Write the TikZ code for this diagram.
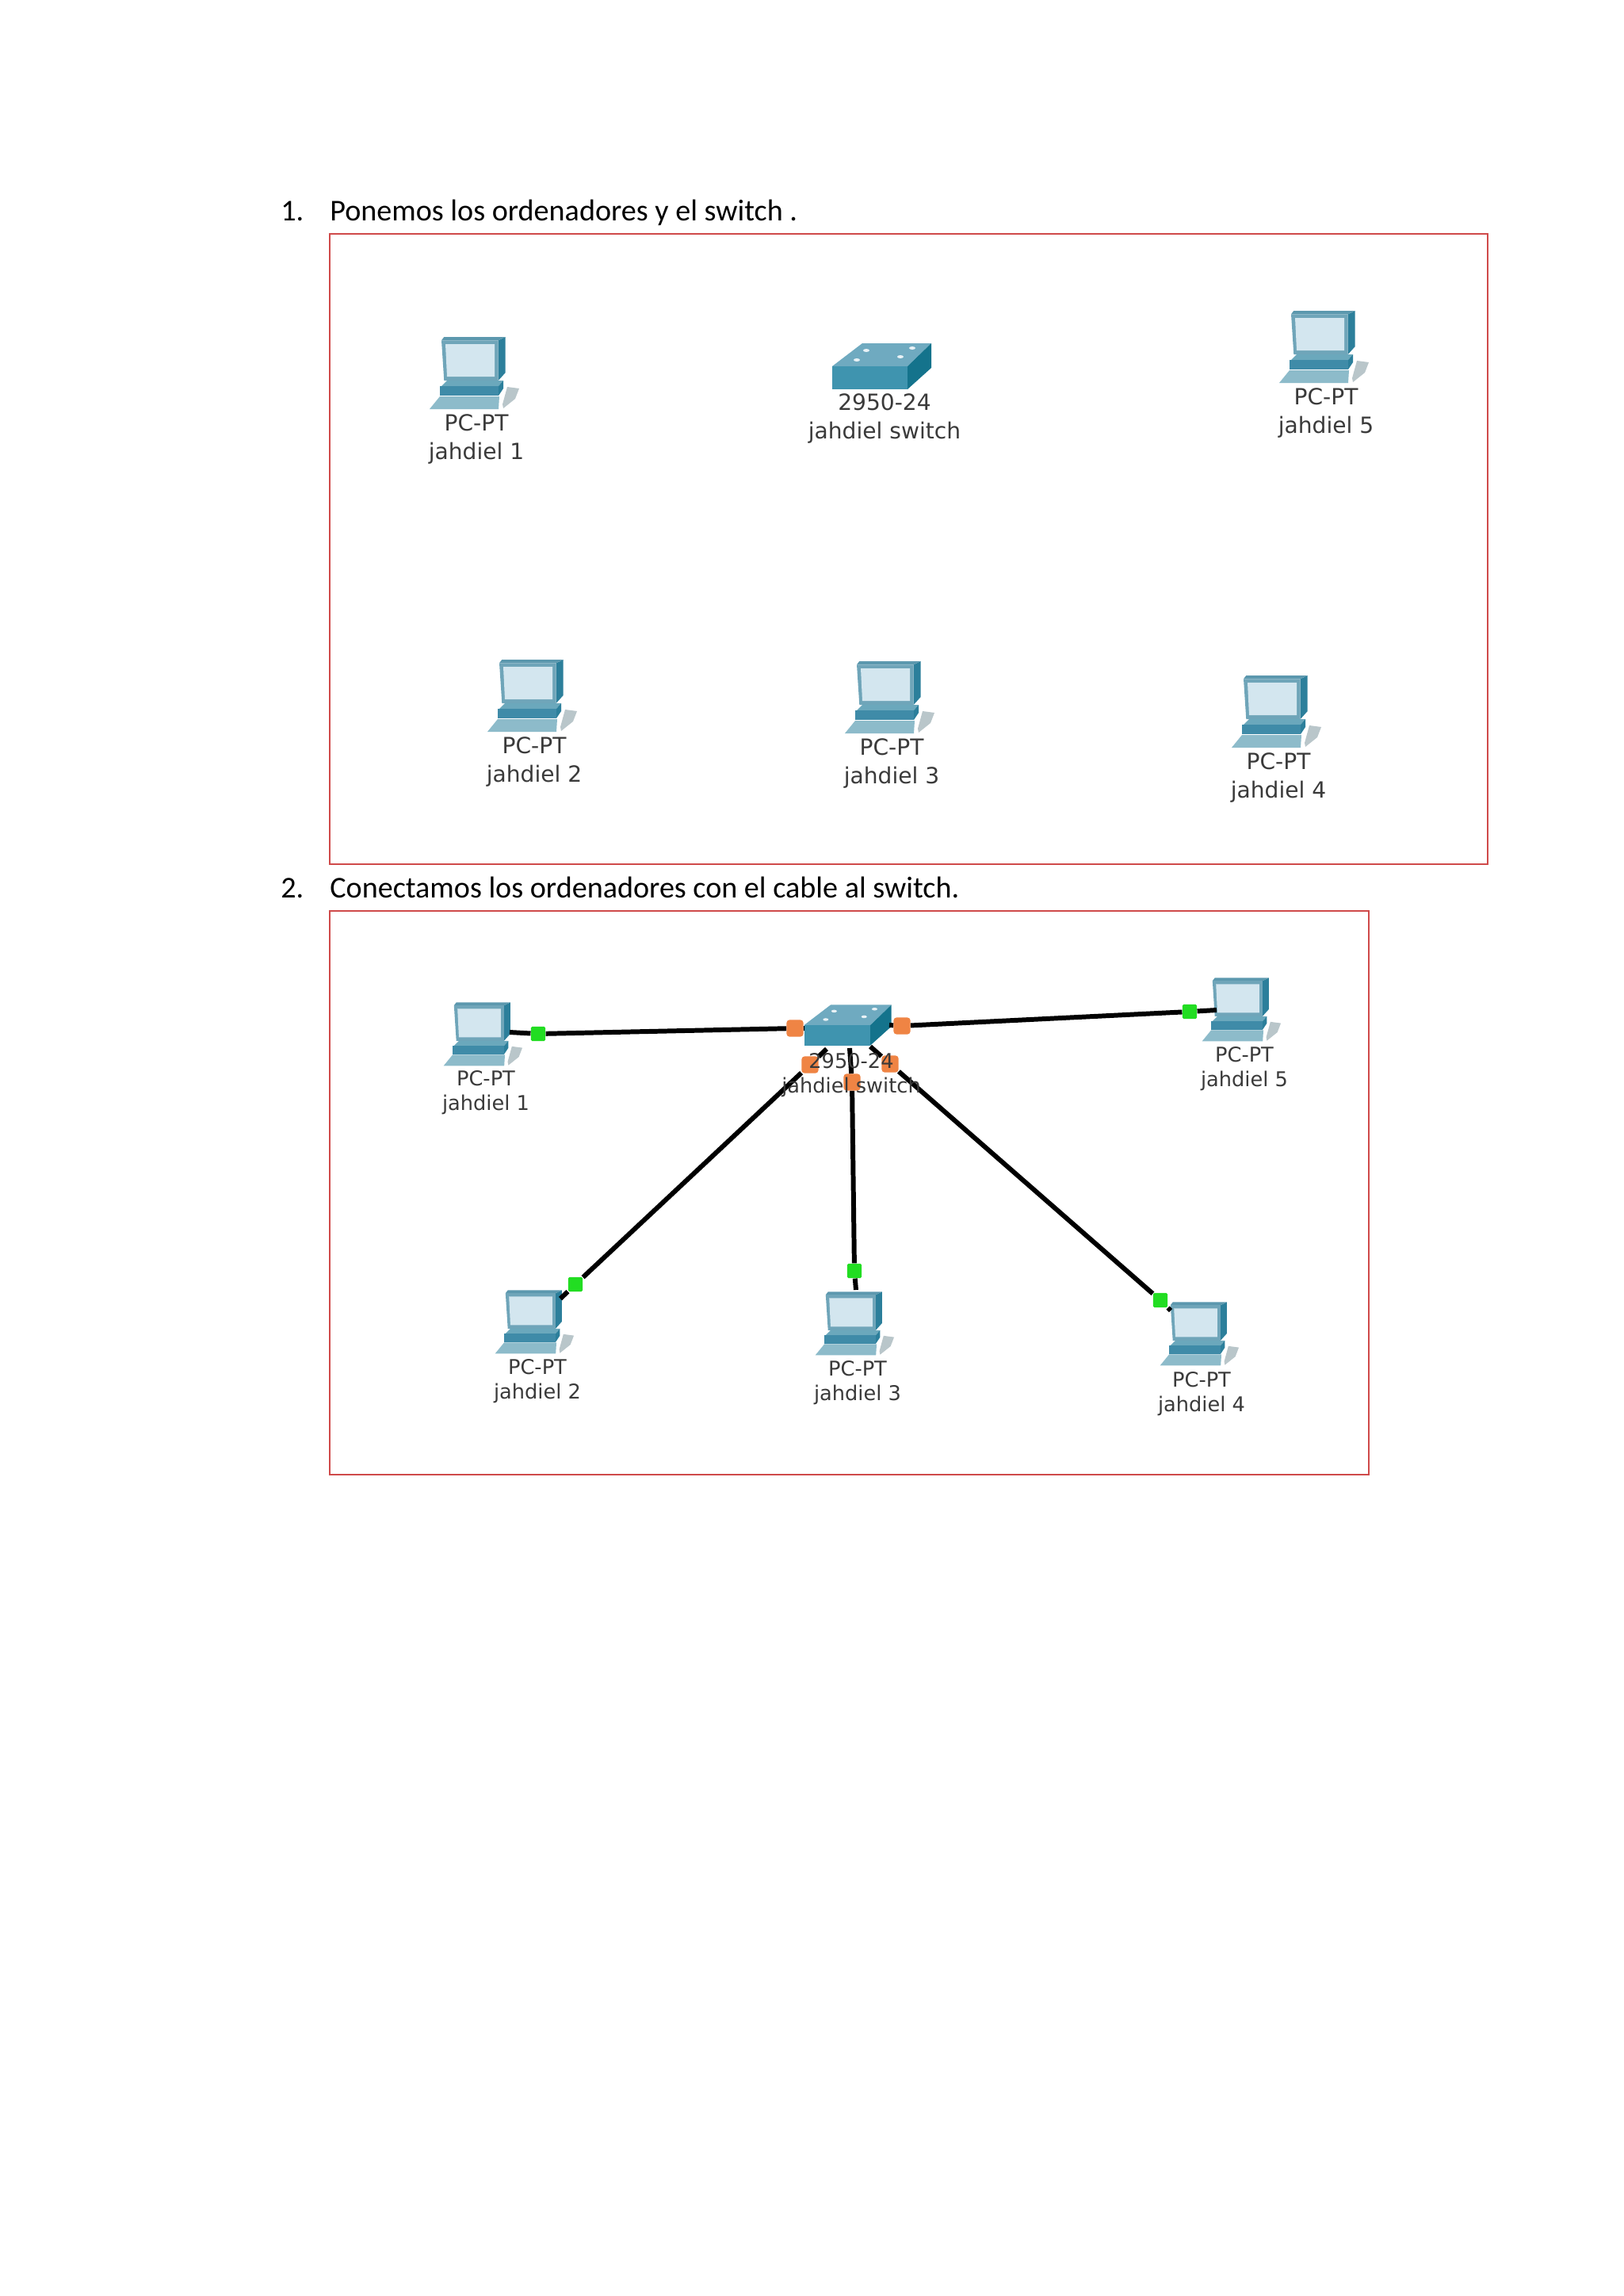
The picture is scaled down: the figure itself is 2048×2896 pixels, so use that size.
\documentclass[tikz,border=0pt]{standalone}
\usepackage{fontspec}
\setmainfont{Carlito}
\newfontfamily\devfont{DejaVu Sans}
\definecolor{framec}{HTML}{CF4A4A}
\definecolor{labelc}{HTML}{3A3A3A}
\definecolor{monfront}{HTML}{6FA5B9}
\definecolor{montop}{HTML}{5C98AE}
\definecolor{monside}{HTML}{2C7F9B}
\definecolor{screenc}{HTML}{D3E6EF}
\definecolor{basetop}{HTML}{6BA8BC}
\definecolor{basefront}{HTML}{3F8BA8}
\definecolor{keyc}{HTML}{8DBBCA}
\definecolor{mousec}{HTML}{B9C6CA}
\definecolor{swtop}{HTML}{6FAAC0}
\definecolor{swfront}{HTML}{3F94AF}
\definecolor{swside}{HTML}{14738C}
\definecolor{portc}{HTML}{EF8444}
\definecolor{linkc}{HTML}{22DD22}
\tikzset{
  pcicon/.pic={
    \fill[monside] (31.7,-40.7) -- (40.7,-45) -- (40.7,0) -- (31.7,10) -- cycle;
    \fill[montop] (-40,-40.7) -- (-36.7,-45) -- (40.7,-45) -- (31.7,-40.7) -- cycle;
    \fill[monfront] (-40,-40.7) -- (31.7,-40.7) -- (31.7,10) -- (-36.7,10) -- cycle;
    \fill[screenc] (-35,-36) -- (27,-36) -- (27,5) -- (-33,5) -- cycle;
    \fill[basetop] (-33,10) -- (38,10) -- (32,17) -- (-40,17) -- cycle;
    \fill[basefront] (-42,17) -- (32,17) -- (32,29) -- (-42,29) -- cycle;
    \fill[monside] (32,17) -- (38,10) -- (38,20) -- (32,29) -- cycle;
    \fill[keyc] (-42,30) -- (33,30) -- (32,46) -- (-55,46) -- cycle;
    \fill[mousec] (43,18) -- (58,20) -- (53,33) -- (38,45) -- (37,40) -- cycle;
  },
  swicon/.pic={
    \fill[swtop] (-63,0) -- (-25,-29) -- (62,-29) -- (32,0) -- cycle;
    \fill[swfront] (-63,0) -- (32,0) -- (32,29) -- (-63,29) -- cycle;
    \fill[swside] (32,0) -- (62,-29) -- (62,2) -- (32,29) -- cycle;
    \foreach \lx/\ly in {-20/-20,38/-23,-32/-8,23/-12}
      \fill[white!85!swtop] (\lx,\ly) ellipse (4 and 2);
  },
  heading/.style={anchor=base west, inner sep=0pt, font=\fontsize{21.7}{26}\selectfont},
  devlabel/.style={align=center, inner sep=0pt, text=labelc, font=\devfont\fontsize{16}{20}\selectfont},
  devsmall/.style={devlabel, font=\devfont\fontsize{14.6}{17.6}\selectfont},
  framebox/.style={draw=framec, line width=1.6pt},
  cable/.style={line width=3.4pt, black},
  portdot/.style={fill=portc, rounded corners=2pt, minimum size=12pt, inner sep=0pt},
  linkdot/.style={fill=linkc, rounded corners=1pt, minimum size=10.5pt, inner sep=0pt},
}
\begin{document}
\begin{tikzpicture}[x=0.02cm, y=-0.02cm]
  \useasboundingbox[fill=white] (0,0) rectangle (2048,2896);
  % step one
  \node[heading] (numa) at (354,279) {1.};
  \node[heading] (heada) at (416,279) {Ponemos los ordenadores y el switch .};
  \draw[framebox] (416,295) rectangle (1877,1090);
  \pic at (597,470) {pcicon}; \node[devlabel] (labela) at (601,554) {PC-PT\\jahdiel 1};
  \pic at (670,877) {pcicon}; \node[devlabel] (labelb) at (674,961) {PC-PT\\jahdiel 2};
  \pic at (1121,879) {pcicon}; \node[devlabel] (labelc) at (1125,963) {PC-PT\\jahdiel 3};
  \pic at (1609,897) {pcicon}; \node[devlabel] (labeld) at (1613,981) {PC-PT\\jahdiel 4};
  \pic at (1669,437) {pcicon}; \node[devlabel] (labele) at (1673,521) {PC-PT\\jahdiel 5};
  \pic at (1113,462) {swicon}; \node[devlabel] (labelsw) at (1116,528) {2950-24\\jahdiel switch};
  % step two
  \node[heading] (numb) at (354,1132) {2.};
  \node[heading] (headb) at (416,1132) {Conectamos los ordenadores con el cable al switch.};
  \draw[framebox] (416,1149) rectangle (1727,1860);
  \pic[scale=0.88] at (608,1304) {pcicon};
  \pic[scale=0.88] at (673,1667) {pcicon};
  \pic[scale=0.88] at (1077,1669) {pcicon};
  \pic[scale=0.88] at (1512,1682) {pcicon};
  \pic[scale=0.88] at (1565,1273) {pcicon};
  \pic[scale=0.88] at (1070,1293) {swicon};
  % cables
  \coordinate (pca) at (643,1302); \coordinate (pcb) at (707,1638); \coordinate (pcc) at (1080,1627);
  \coordinate (pcd) at (1477,1653); \coordinate (pce) at (1535,1274);
  \coordinate (swa) at (1015,1297); \coordinate (swb) at (1043,1323); \coordinate (swc) at (1072,1322);
  \coordinate (swd) at (1098,1320); \coordinate (swe) at (1122,1293);
  \node[linkdot] (linka) at (679,1304) {}; \node[portdot] (porta) at (1003,1297) {};
  \node[linkdot] (linkb) at (726,1620) {}; \node[portdot] (portb) at (1022,1343) {};
  \node[linkdot] (linkc) at (1078,1603) {}; \node[portdot] (portc) at (1075,1365) {};
  \node[linkdot] (linkd) at (1464,1640) {}; \node[portdot] (portd) at (1123,1342) {};
  \node[linkdot] (linke) at (1501,1276) {}; \node[portdot] (porte) at (1138,1294) {};
  \draw[cable] (pca) -- (linka) -- (porta) -- (swa);
  \draw[cable] (pcb) -- (linkb) -- (portb) -- (swb);
  \draw[cable] (pcc) -- (linkc) -- (portc) -- (swc);
  \draw[cable] (pcd) -- (linkd) -- (portd) -- (swd);
  \draw[cable] (pce) -- (linke) -- (porte) -- (swe);
  % labels go over the cables
  \node[devsmall] (labelf) at (613,1378) {PC-PT\\jahdiel 1};
  \node[devsmall] (labelg) at (678,1742) {PC-PT\\jahdiel 2};
  \node[devsmall] (labelh) at (1082,1744) {PC-PT\\jahdiel 3};
  \node[devsmall] (labeli) at (1516,1758) {PC-PT\\jahdiel 4};
  \node[devsmall] (labelj) at (1570,1348) {PC-PT\\jahdiel 5};
  \node[devsmall] (labelk) at (1074,1356) {2950-24\\jahdiel switch};
\end{tikzpicture}
\end{document}
